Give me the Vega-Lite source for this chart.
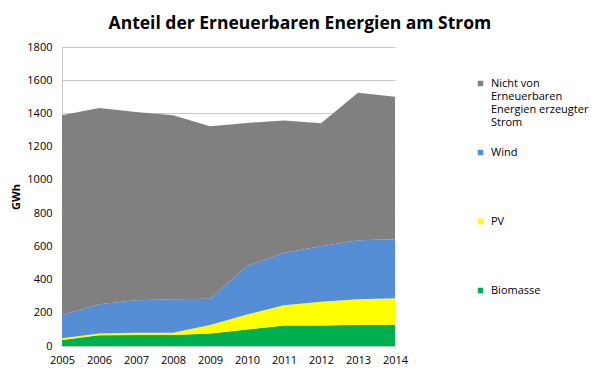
{
  "$schema": "https://vega.github.io/schema/vega-lite/v6.json",
  "width": 333,
  "height": 299,
  "padding": {"left": 10, "top": 14, "right": 5, "bottom": 5},
  "background": "white",
  "title": {
    "text": "Anteil der Erneuerbaren Energien am Strom",
    "fontSize": 17.5,
    "font": "Open Sans",
    "fontWeight": "bold",
    "color": "#000000",
    "anchor": "middle",
    "frame": "bounds",
    "offset": 9
  },
  "config": {
    "view": {"stroke": null},
    "font": "Open Sans"
  },
  "data": {
    "values": [
      {"Jahr": "2005", "Quelle": "Biomasse", "ord": 1, "GWh": 36},
      {"Jahr": "2006", "Quelle": "Biomasse", "ord": 1, "GWh": 64},
      {"Jahr": "2007", "Quelle": "Biomasse", "ord": 1, "GWh": 66},
      {"Jahr": "2008", "Quelle": "Biomasse", "ord": 1, "GWh": 66},
      {"Jahr": "2009", "Quelle": "Biomasse", "ord": 1, "GWh": 76},
      {"Jahr": "2010", "Quelle": "Biomasse", "ord": 1, "GWh": 100},
      {"Jahr": "2011", "Quelle": "Biomasse", "ord": 1, "GWh": 124},
      {"Jahr": "2012", "Quelle": "Biomasse", "ord": 1, "GWh": 124},
      {"Jahr": "2013", "Quelle": "Biomasse", "ord": 1, "GWh": 128},
      {"Jahr": "2014", "Quelle": "Biomasse", "ord": 1, "GWh": 128},
      {"Jahr": "2005", "Quelle": "PV", "ord": 2, "GWh": 10},
      {"Jahr": "2006", "Quelle": "PV", "ord": 2, "GWh": 12},
      {"Jahr": "2007", "Quelle": "PV", "ord": 2, "GWh": 14},
      {"Jahr": "2008", "Quelle": "PV", "ord": 2, "GWh": 14},
      {"Jahr": "2009", "Quelle": "PV", "ord": 2, "GWh": 50},
      {"Jahr": "2010", "Quelle": "PV", "ord": 2, "GWh": 90},
      {"Jahr": "2011", "Quelle": "PV", "ord": 2, "GWh": 121},
      {"Jahr": "2012", "Quelle": "PV", "ord": 2, "GWh": 142},
      {"Jahr": "2013", "Quelle": "PV", "ord": 2, "GWh": 153},
      {"Jahr": "2014", "Quelle": "PV", "ord": 2, "GWh": 159},
      {"Jahr": "2005", "Quelle": "Wind", "ord": 3, "GWh": 140},
      {"Jahr": "2006", "Quelle": "Wind", "ord": 3, "GWh": 175},
      {"Jahr": "2007", "Quelle": "Wind", "ord": 3, "GWh": 195},
      {"Jahr": "2008", "Quelle": "Wind", "ord": 3, "GWh": 201},
      {"Jahr": "2009", "Quelle": "Wind", "ord": 3, "GWh": 159},
      {"Jahr": "2010", "Quelle": "Wind", "ord": 3, "GWh": 291},
      {"Jahr": "2011", "Quelle": "Wind", "ord": 3, "GWh": 316},
      {"Jahr": "2012", "Quelle": "Wind", "ord": 3, "GWh": 335},
      {"Jahr": "2013", "Quelle": "Wind", "ord": 3, "GWh": 355},
      {"Jahr": "2014", "Quelle": "Wind", "ord": 3, "GWh": 355},
      {"Jahr": "2005", "Quelle": "Nicht von Erneuerbaren Energien erzeugter Strom", "ord": 4, "GWh": 1203},
      {"Jahr": "2006", "Quelle": "Nicht von Erneuerbaren Energien erzeugter Strom", "ord": 4, "GWh": 1182},
      {"Jahr": "2007", "Quelle": "Nicht von Erneuerbaren Energien erzeugter Strom", "ord": 4, "GWh": 1134},
      {"Jahr": "2008", "Quelle": "Nicht von Erneuerbaren Energien erzeugter Strom", "ord": 4, "GWh": 1108},
      {"Jahr": "2009", "Quelle": "Nicht von Erneuerbaren Energien erzeugter Strom", "ord": 4, "GWh": 1038},
      {"Jahr": "2010", "Quelle": "Nicht von Erneuerbaren Energien erzeugter Strom", "ord": 4, "GWh": 862},
      {"Jahr": "2011", "Quelle": "Nicht von Erneuerbaren Energien erzeugter Strom", "ord": 4, "GWh": 796},
      {"Jahr": "2012", "Quelle": "Nicht von Erneuerbaren Energien erzeugter Strom", "ord": 4, "GWh": 740},
      {"Jahr": "2013", "Quelle": "Nicht von Erneuerbaren Energien erzeugter Strom", "ord": 4, "GWh": 889},
      {"Jahr": "2014", "Quelle": "Nicht von Erneuerbaren Energien erzeugter Strom", "ord": 4, "GWh": 859}
    ]
  },
  "mark": {"type": "area", "interpolate": "linear"},
  "encoding": {
    "x": {
      "field": "Jahr",
      "type": "ordinal",
      "scale": {"type": "point", "padding": 0},
      "axis": {
        "labelAngle": 0,
        "title": null,
        "domain": false,
        "ticks": false,
        "labelFontSize": 11,
        "labelColor": "#000000",
        "labelPadding": 8
      }
    },
    "y": {
      "field": "GWh",
      "type": "quantitative",
      "stack": "zero",
      "scale": {"domain": [0, 1800], "nice": false},
      "axis": {
        "values": [0, 200, 400, 600, 800, 1000, 1200, 1400, 1600, 1800],
        "format": "d",
        "title": "GWh",
        "titleFontSize": 11,
        "titleFontWeight": "bold",
        "titleColor": "#000000",
        "titlePadding": 5,
        "labelFontSize": 11,
        "labelColor": "#000000",
        "labelPadding": 10,
        "ticks": false,
        "gridColor": "#c8c8c8",
        "domainColor": "#c8c8c8"
      }
    },
    "color": {
      "field": "Quelle",
      "type": "nominal",
      "scale": {
        "domain": ["Nicht von Erneuerbaren Energien erzeugter Strom", "Wind", "PV", "Biomasse"],
        "range": ["#808080", "#558ED5", "#FFFF00", "#00B050"]
      },
      "legend": {
        "title": null,
        "orient": "none",
        "legendX": 413,
        "legendY": 31,
        "symbolType": "square",
        "symbolSize": 30,
        "symbolStrokeWidth": 0,
        "labelFontSize": 11,
        "labelColor": "#000000",
        "labelOffset": 5,
        "labelLimit": 200,
        "rowPadding": 18,
        "labelExpr": "datum.label == 'Nicht von Erneuerbaren Energien erzeugter Strom' ? ['Nicht von', 'Erneuerbaren', 'Energien erzeugter', 'Strom'] : [datum.label, ' ', ' ', ' ']"
      }
    },
    "order": {"field": "ord", "type": "quantitative"}
  }
}
